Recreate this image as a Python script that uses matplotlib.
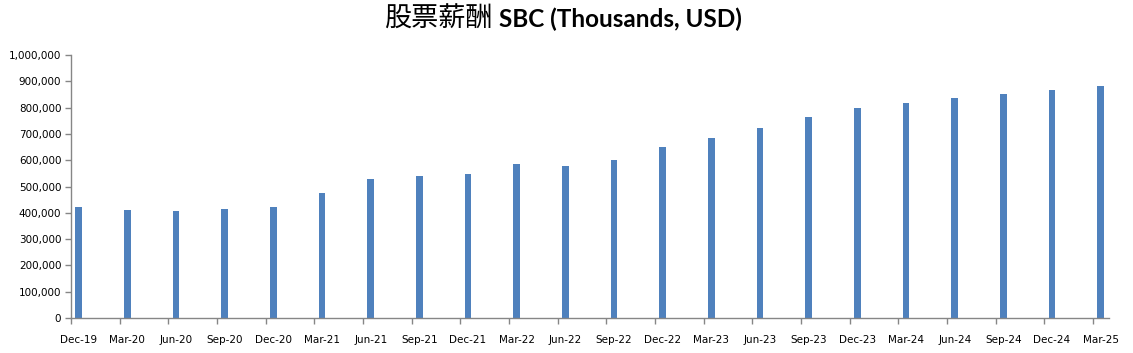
import matplotlib.pyplot as plt
import matplotlib.ticker as mticker
import numpy as np

quarters = ['Dec-19', 'Mar-20', 'Jun-20', 'Sep-20', 'Dec-20', 'Mar-21', 'Jun-21',
            'Sep-21', 'Dec-21', 'Mar-22', 'Jun-22', 'Sep-22', 'Dec-22', 'Mar-23',
            'Jun-23', 'Sep-23', 'Dec-23', 'Mar-24', 'Jun-24', 'Sep-24', 'Dec-24', 'Mar-25']
sbc = [423000, 411000, 407000, 415000, 423000, 476000, 529000,
       540000, 548000, 586000, 578000, 601000, 651000, 685000,
       723000, 765000, 799000, 818000, 837000, 852000, 867000, 882000]

axis_grey = '#868686'
bar_blue = '#4F81BD'

fig = plt.figure(figsize=(11.33, 3.53), dpi=100)
ax = fig.add_axes([71/1133, 35/353, (1109-71)/1133, (318-55)/353])

x = np.arange(len(quarters))
ax.bar(x, sbc, width=0.135, color=bar_blue, zorder=2)

# excel-style: tick marks sit on category boundaries, labels under the bars
off = 7.7 / 48.67
ax.set_xlim(-off, len(quarters) - 1 + 0.17)
ax.set_ylim(0, 1000000)
ax.set_xticks(x)
ax.set_xticklabels(quarters)
ax.set_xticks(x - off, minor=True)
ax.tick_params(axis='x', which='major', length=0, pad=12, labelsize=7.5)
ax.tick_params(axis='x', which='minor', length=4, color=axis_grey, width=1)
ax.set_yticks(np.arange(0, 1000001, 100000))
ax.yaxis.set_major_formatter(mticker.FuncFormatter(lambda v, p: f'{int(v):,}'))
ax.tick_params(axis='y', length=4, color=axis_grey, width=1, labelsize=7.5, pad=3)

for s in ['top', 'right']:
    ax.spines[s].set_visible(False)
for s in ['left', 'bottom']:
    ax.spines[s].set_color(axis_grey)
    ax.spines[s].set_linewidth(1)

fig.text(493/1133, 1 - 19/353, '股票薪酬', ha='right', va='center',
         fontsize=19.5, family=['Noto Sans CJK SC', 'DejaVu Sans'])
fig.text(499/1133, 1 - 19/353, 'SBC (Thousands, USD)', ha='left', va='center',
         fontsize=17.5, fontweight='bold', family=['Lato', 'DejaVu Sans'])

plt.savefig('out.png', dpi=100)
